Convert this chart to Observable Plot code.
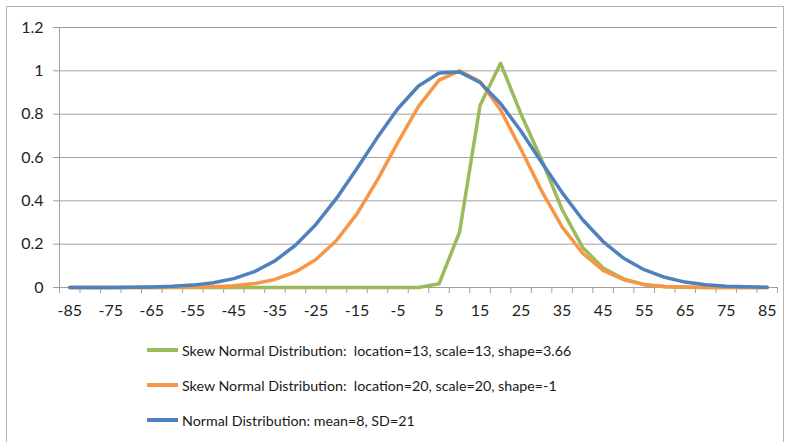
<!DOCTYPE html>
<html><head><meta charset="utf-8">
<script src="https://cdn.jsdelivr.net/npm/d3@7"></script>
<script src="https://cdn.jsdelivr.net/npm/@observablehq/plot@0.6"></script>
<style>
body{margin:0;background:#fff;font-family:Lato,sans-serif;}
#wrap{position:relative;width:787px;height:442px;overflow:hidden;}
#frame{position:absolute;left:6px;top:6px;width:778px;height:460px;border:1px solid #b5b5b5;box-sizing:border-box;}
#chart{position:absolute;left:0;top:0;}
.leg{position:absolute;left:147px;height:20px;font-size:14.25px;color:#1a1a1a;display:flex;align-items:center;white-space:pre;}
.sw{width:31px;height:3.5px;margin-right:4px;}
</style></head><body>
<div id="wrap"><div id="frame"></div><div id="chart"></div><div id="legend"></div></div>
<script>
const xValues = [-85,-80,-75,-70,-65,-60,-55,-50,-45,-40,-35,-30,-25,-20,-15,-10,-5,0,5,10,15,20,25,30,35,40,45,50,55,60,65,70,75,80,85];
const skewGreen = [0,0,0,0,0,0,0,0,0,0,0,0,0,0,0,0,0,0,0.017,0.255,0.84,1.035,0.80,0.59,0.36,0.185,0.09,0.04,0.013,0.004,0.001,0,0,0,0];
const skewOrange = [0,0,0,0,0,0.0006,0.0014,0.004,0.008,0.018,0.037,0.072,0.129,0.217,0.340,0.497,0.671,0.836,0.957,1.0,0.951,0.819,0.637,0.446,0.280,0.158,0.079,0.036,0.014,0.005,0.002,0.0005,0.0001,0,0];
const normalBlue = [0.0001,0.0002,0.0004,0.001,0.0024,0.0053,0.011,0.022,0.041,0.073,0.123,0.195,0.291,0.411,0.549,0.693,0.826,0.930,0.990,0.995,0.946,0.849,0.721,0.578,0.438,0.313,0.212,0.135,0.082,0.047,0.025,0.013,0.006,0.003,0.001];
const seriesNames = [
  "Skew Normal Distribution:  location=13, scale=13, shape=3.66",
  "Skew Normal Distribution:  location=20, scale=20, shape=-1",
  "Normal Distribution: mean=8, SD=21"
];
const seriesColors = ["#9bbb59","#f79646","#4f81bd"];
const xTickLabels = [-85,-75,-65,-55,-45,-35,-25,-15,-5,5,15,25,35,45,55,65,75,85];
const yTickValues = [0,0.2,0.4,0.6,0.8,1,1.2];
const yTickLabels = ["0","0.2","0.4","0.6","0.8","1","1.2"];

const seriesValues = [skewGreen, skewOrange, normalBlue];
const rows = seriesValues.flatMap((vals, s) => xValues.map((x, i) => ({x, y: vals[i], s})));
const step = xValues[1] - xValues[0];
const xDomain = [xValues[0] - step/2, xValues[xValues.length-1] + step/2];
const boundaries = d3.range(xValues.length + 1).map(i => xDomain[0] + i*step);

const chart = Plot.plot({
  width: 787, height: 330,
  marginLeft: 59, marginRight: 10, marginTop: 27, marginBottom: 43,
  style: {fontFamily: "Lato, sans-serif", background: "transparent"},
  x: {type: "linear", domain: xDomain, axis: null},
  y: {domain: [0, 1.2], axis: null},
  marks: [
    Plot.gridY(yTickValues, {stroke: "#a0a0a0", strokeOpacity: 1, strokeWidth: 1}),
    Plot.ruleX([xDomain[0]], {stroke: "#a0a0a0", strokeWidth: 1}),
    Plot.axisY(yTickValues, {tickSize: 6, tickPadding: 10, stroke: "#a0a0a0", fontSize: 16, fill: "#222",
      tickFormat: (d) => yTickLabels[yTickValues.indexOf(d)], label: null}),
    Plot.axisX(boundaries, {tickSize: 6, stroke: "#a0a0a0", tickFormat: () => "", label: null}),
    Plot.axisX(xTickLabels, {tickSize: 0, tickPadding: 17, fontSize: 16, fill: "#222", label: null,
      tickFormat: (d) => String(d)}),
    ...seriesValues.map((_, s) => Plot.line(rows.filter(r => r.s === s), {
      x: "x", y: "y", stroke: seriesColors[s], strokeWidth: 3.5, strokeLinejoin: "round"
    }))
  ]
});
document.getElementById("chart").appendChild(chart);

const legend = document.getElementById("legend");
const legendTops = [340, 375, 410];
seriesNames.forEach((name, i) => {
  const row = document.createElement("div");
  row.className = "leg";
  row.style.top = legendTops[i] + "px";
  const sw = document.createElement("span");
  sw.className = "sw";
  sw.style.background = seriesColors[i];
  const t = document.createElement("span");
  t.textContent = name;
  row.appendChild(sw); row.appendChild(t);
  legend.appendChild(row);
});
</script>
</body></html>
